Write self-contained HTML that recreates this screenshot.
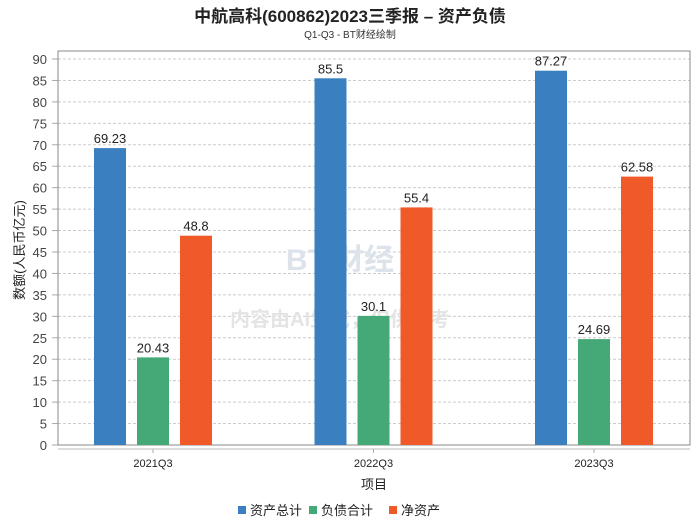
<!DOCTYPE html>
<html><head><meta charset="utf-8"><style>
body{margin:0;background:#fff;font-family:"Liberation Sans","Noto Sans CJK SC",sans-serif}
svg text{font-family:"Liberation Sans","Noto Sans CJK SC",sans-serif}
</style></head><body>
<svg width="700" height="524" viewBox="0 0 700 524">
<text x="350" y="22" text-anchor="middle" font-size="17" font-weight="bold" fill="#222">中航高科(600862)2023三季报 – 资产负债</text>
<text x="350" y="38" text-anchor="middle" font-size="10" fill="#333">Q1-Q3 - BT财经绘制</text>
<g id="grid"></g>
<rect x="58" y="51" width="632" height="394" fill="none" stroke="#888"/>
<line x1="58" y1="449" x2="690" y2="449" stroke="#bbb"/>
<text x="340" y="270" text-anchor="middle" font-size="30" font-weight="bold" fill="#dde3ea">BT 财经</text>
<text x="340" y="326" text-anchor="middle" font-size="20" font-weight="bold" fill="#e4e4e4">内容由AI生成，仅供参考</text>
<g id="bars"></g>
<text transform="translate(24,250) rotate(-90)" text-anchor="middle" font-size="13" fill="#222">数额(人民币亿元)</text>
<text x="374" y="489" text-anchor="middle" font-size="13" fill="#222">项目</text>
<g id="legend"></g>
</svg>
<script>
const categories=["2021Q3","2022Q3","2023Q3"];
const seriesNames=["资产总计","负债合计","净资产"];
const totalAssets=[69.23,85.5,87.27];
const totalLiab=[20.43,30.1,24.69];
const netAssets=[48.8,55.4,62.58];
const yTicks=[0,5,10,15,20,25,30,35,40,45,50,55,60,65,70,75,80,85,90];
const colors=["#3a80c0","#45a977","#f05a28"];
const ns="http://www.w3.org/2000/svg";
const y=v=>445-v*386/90;
const xc=i=>153+i*220.5;
function mk(t,a,p){const e=document.createElementNS(ns,t);for(const k in a)e.setAttribute(k,a[k]);p.appendChild(e);return e;}
const grid=document.getElementById('grid');
yTicks.forEach(v=>{
 if(v>0){const l=mk('line',{x1:58,x2:690,y1:y(v),y2:y(v),stroke:'#ccc','stroke-dasharray':'3,2'},grid);
 
 }
 const t=mk('text',{x:47,y:y(v)+5,'text-anchor':'end','font-size':13,fill:'#444'},grid);t.textContent=v;
 
 
 mk('line',{x1:52,x2:58,y1:y(v),y2:y(v),stroke:'#aaa'},grid);
});
const bars=document.getElementById('bars');
const series=[totalAssets,totalLiab,netAssets];
categories.forEach((c,i)=>{
 series.forEach((s,j)=>{
  const cx=xc(i)+(j-1)*43;
  const r=mk('rect',{x:cx-16,y:y(s[i]),width:32,height:445-y(s[i]),fill:colors[j]},bars);
  
  
  const t=mk('text',{x:cx,y:y(s[i])-5,'text-anchor':'middle','font-size':13,fill:'#222'},bars);t.textContent=s[i];
  
  
 });
 mk('line',{x1:xc(i),x2:xc(i),y1:449,y2:453,stroke:'#aaa'},bars);
 const t=mk('text',{x:xc(i),y:467,'text-anchor':'middle','font-size':11,fill:'#222'},bars);t.textContent=c;
 
 
});
const lg=document.getElementById('legend');
const lx=[238,309,389];
seriesNames.forEach((n,j)=>{
 const g=mk('g',{},lg);
 
 
 mk('rect',{x:lx[j],y:506,width:8,height:8,fill:colors[j]},g);
 const t=mk('text',{x:lx[j]+12,y:515,'font-size':13,fill:'#222'},g);t.textContent=n;
});
</script>
</body></html>
